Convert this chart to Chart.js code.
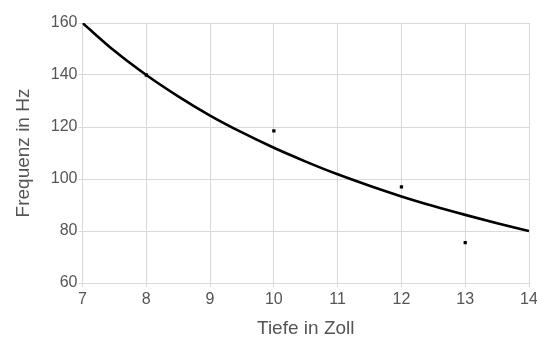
<!DOCTYPE html>
<html lang="de">
  <head>
    <meta charset="UTF-8" />
    <script src="https://cdn.jsdelivr.net/npm/chart.js@4.4.0/dist/chart.umd.min.js"></script>
    <title>Frequenz</title>
    <style>
      html, body { margin: 0; padding: 0; background: #fff; }
      #wrap { width: 537px; height: 340px; }
    </style>
  </head>
  <body>
    <div id="wrap">
      <canvas id="myChart" width="537" height="340"></canvas>
    </div>
    <script>
      // Messpunkte
      const tiefe = [8, 10, 12, 13];
      const frequenz = [140, 118.5, 97, 75.5];

      // Ausgleichskurve
      const kurveX = [7, 7.5, 8, 8.5, 9, 9.5, 10, 10.5, 11, 11.5, 12, 12.5, 13, 13.5, 14];
      const kurveY = [160, 149.3, 140, 131.8, 124.4, 117.9, 112, 106.7, 101.8, 97.4, 93.3, 89.6, 86.2, 83, 80];

      const xTicks = [7, 8, 9, 10, 11, 12, 13, 14];
      const yTicks = [60, 80, 100, 120, 140, 160];

      const gridColor = "#d9d9d9";
      const textColor = "#555";

      var ctx = document.getElementById("myChart");

      var config = {
        type: "scatter",
        data: {
          datasets: [
            {
              label: "Kurve",
              type: "line",
              data: kurveX.map((x, i) => ({ x: x, y: kurveY[i] })),
              borderColor: "#000",
              borderWidth: 2.6,
              pointRadius: 0,
              fill: false,
              cubicInterpolationMode: "monotone",
            },
            {
              label: "Messung",
              data: tiefe.map((x, i) => ({ x: x, y: frequenz[i] })),
              backgroundColor: "#000",
              borderColor: "#000",
              pointStyle: "rect",
              pointRadius: 2.3,
              borderWidth: 0,
            },
          ],
        },
        options: {
          responsive: false,
          animation: false,
          layout: { padding: { top: 23, right: 0, left: 10, bottom: 0 } },
          plugins: {
            legend: { display: false },
            tooltip: { enabled: false },
          },
          scales: {
            x: {
              type: "linear",
              min: 7,
              max: 14,
              afterBuildTicks: (axis) => {
                axis.ticks = xTicks.map((v) => ({ value: v }));
              },
              // label "14" darf bis an den Rand reichen
              afterFit: (axis) => {
                axis.paddingRight = 8;
              },
              grid: { color: gridColor, tickLength: 4 },
              border: { color: gridColor },
              ticks: {
                color: textColor,
                padding: 3,
                font: { family: "Liberation Sans", size: 16 },
              },
              title: {
                display: true,
                text: "Tiefe in Zoll",
                color: textColor,
                padding: { top: 5, bottom: 0 },
                font: { family: "Liberation Sans", size: 19 },
              },
            },
            y: {
              min: 60,
              max: 160,
              afterBuildTicks: (axis) => {
                axis.ticks = yTicks.map((v) => ({ value: v }));
              },
              grid: { color: gridColor, tickLength: 4 },
              border: { color: gridColor },
              ticks: {
                color: textColor,
                padding: 1,
                font: { family: "Liberation Sans", size: 16 },
              },
              title: {
                display: true,
                text: "Frequenz in Hz",
                color: textColor,
                padding: { top: 2, bottom: 15 },
                font: { family: "Liberation Sans", size: 19 },
              },
            },
          },
        },
      };

      var myChart = new Chart(ctx, config);
    </script>
  </body>
</html>
